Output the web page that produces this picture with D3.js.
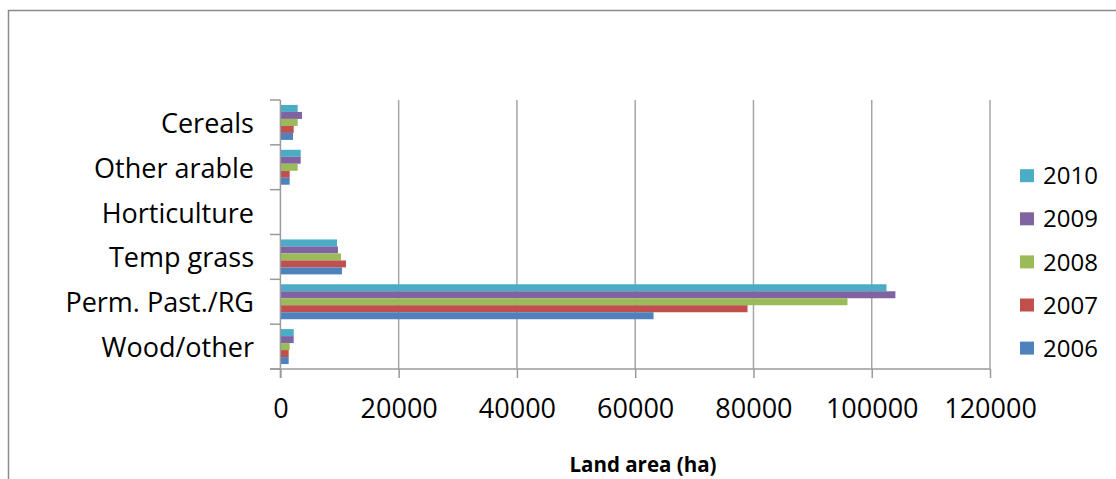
<!DOCTYPE html>
<html>
<head>
<meta charset="utf-8">
<script src="https://cdn.jsdelivr.net/npm/d3@7"></script>
<style>
  html, body { margin: 0; padding: 0; background: #fff; }
  svg { display: block; }
  text { font-family: "Open Sans", "Noto Sans", sans-serif; fill: #000; }
</style>
</head>
<body>
<svg id="chart" width="1116" height="479"></svg>
<script>
// Categories (top to bottom)
const categories = ["Cereals", "Other arable", "Horticulture", "Temp grass", "Perm. Past./RG", "Wood/other"];
// Series, drawn top to bottom inside each group
const seriesNames = ["2010", "2009", "2008", "2007", "2006"];
const seriesColors = ["#4bacc6", "#8064a2", "#9bbb59", "#c0504d", "#4f81bd"];
const values2010 = [2920, 3430, 0, 9570, 102500, 2250];
const values2009 = [3650, 3430, 0, 9730, 104000, 2250];
const values2008 = [2920, 2920, 0, 10240, 95900, 1570];
const values2007 = [2250, 1570, 0, 11090, 79000, 1400];
const values2006 = [2130, 1570, 0, 10410, 63100, 1400];
const xTicks = [0, 20000, 40000, 60000, 80000, 100000, 120000];
const xTitle = "Land area (ha)";

const seriesValues = [values2010, values2009, values2008, values2007, values2006];
const rows = [];
categories.forEach((c, i) => {
  seriesNames.forEach((s, j) => rows.push({ cat: c, series: s, value: seriesValues[j][i], color: seriesColors[j] }));
});

const svg = d3.select("#chart");
const pLeft = 280.4, pRight = 990, pTop = 100, pBottom = 369;

// Outer chart border
svg.append("rect").attr("x", 8.5).attr("y", 10.5).attr("width", 1130).attr("height", 500)
  .attr("fill", "#fff").attr("stroke", "#8a8a8a").attr("stroke-width", 1.5);

const x = d3.scaleLinear().domain([0, 120000]).range([pLeft, pRight]);
const y0 = d3.scaleBand().domain(categories).range([pTop, pBottom]).paddingInner(0.22).paddingOuter(0.11);
const y1 = d3.scaleBand().domain(seriesNames).range([0, y0.bandwidth()]);

// Gridlines
svg.append("g").selectAll("line").data(xTicks.slice(1)).join("line")
  .attr("x1", d => x(d)).attr("x2", d => x(d)).attr("y1", pTop).attr("y2", pBottom)
  .attr("stroke", "#a6a6a6").attr("stroke-width", 1.5);

// Bars
svg.append("g").selectAll("rect").data(rows).join("rect")
  .attr("x", x(0))
  .attr("y", d => y0(d.cat) + y1(d.series))
  .attr("width", d => x(d.value) - x(0))
  .attr("height", y1.bandwidth())
  .attr("fill", d => d.color);

// X axis
const xAxis = svg.append("g").attr("transform", `translate(0,${pBottom})`)
  .call(d3.axisBottom(x).tickValues(xTicks).tickFormat(d3.format("d")).tickSize(9).tickPadding(21));
xAxis.select(".domain").remove();
xAxis.selectAll(".tick line").attr("stroke", "#9a9a9a").attr("stroke-width", 1.5);
xAxis.selectAll(".tick text").attr("font-size", 27).attr("font-family", "Open Sans").attr("fill", "#000");
svg.append("line").attr("x1", 270).attr("x2", pRight).attr("y1", pBottom).attr("y2", pBottom)
  .attr("stroke", "#9a9a9a").attr("stroke-width", 1.5);

// Y axis
const step = y0.step();
const bounds = categories.map(c => y0(c) - step * y0.paddingOuter()).concat([pBottom]);
svg.append("g").selectAll("line").data(bounds).join("line")
  .attr("x1", 270).attr("x2", pLeft).attr("y1", d => d).attr("y2", d => d)
  .attr("stroke", "#9a9a9a").attr("stroke-width", 1.5);
svg.append("line").attr("x1", pLeft).attr("x2", pLeft).attr("y1", pTop).attr("y2", pBottom + 9)
  .attr("stroke", "#9a9a9a").attr("stroke-width", 1.5);
svg.append("g").selectAll("text").data(categories).join("text")
  .attr("x", 254).attr("y", d => y0(d) + y0.bandwidth() / 2 + 1)
  .attr("dy", "0.35em").attr("text-anchor", "end").attr("font-size", 27)
  .text(d => d);

// X title
svg.append("text").attr("x", 643).attr("y", 472).attr("text-anchor", "middle")
  .attr("font-size", 20.5).attr("font-weight", "bold").text(xTitle);

// Legend
const legend = svg.append("g").selectAll("g").data(seriesNames).join("g")
  .attr("transform", (d, i) => `translate(1020,${175.7 + i * 43.1})`);
legend.append("rect").attr("x", 0).attr("y", -6.5).attr("width", 14).attr("height", 13)
  .attr("fill", (d, i) => seriesColors[i]);
legend.append("text").attr("x", 23).attr("y", 0).attr("dy", "0.36em").attr("font-size", 24).text(d => d);
</script>
</body>
</html>
